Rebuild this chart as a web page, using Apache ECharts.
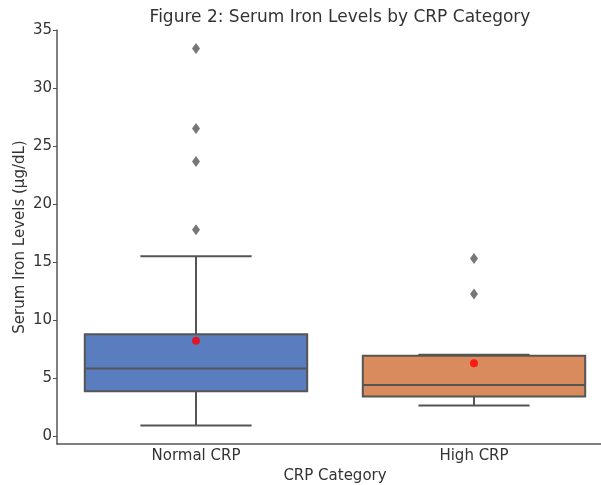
<!DOCTYPE html>
<html>
<head>
<meta charset="utf-8">
<script src="https://cdn.jsdelivr.net/npm/echarts@6/dist/echarts.min.js"></script>
<style>
html,body{margin:0;padding:0;background:#fff;}
#chart{width:601px;height:485px;}
</style>
</head>
<body>
<div id="chart"></div>
<script>
// categories and box stats
var categories = ['Normal CRP', 'High CRP'];
// [lower whisker, Q1, median, Q3, upper whisker]
var boxStats = [
  [0.89, 3.85, 5.8, 8.76, 15.5],
  [2.61, 3.39, 4.39, 6.92, 7.0]
];
var boxColors = ['#5a7dbf', '#d98b5e'];
var outliers = [
  [0, 33.4], [0, 26.5], [0, 23.66], [0, 17.77],
  [1, 15.3], [1, 12.23]
];
var means = [8.21, 6.26];
var yTicks = [0, 5, 10, 15, 20, 25, 30, 35];

var lineColor = '#555555';
var font = 'DejaVu Sans';

var myChart = echarts.init(document.getElementById('chart'));

var boxData = boxStats.map(function(s, i){ return [i].concat(s); });
var meanData = means.map(function(m, i){ return [i, m]; });

function renderBox(params, api){
  var idx = api.value(0);
  var band = api.size([1, 0])[0];
  var half = band * 0.4;
  var cap = band * 0.2;
  var low = api.coord([idx, api.value(1)]);
  var q1 = api.coord([idx, api.value(2)]);
  var med = api.coord([idx, api.value(3)]);
  var q3 = api.coord([idx, api.value(4)]);
  var high = api.coord([idx, api.value(5)]);
  var x = low[0];
  var ls = {stroke: lineColor, lineWidth: 2};
  return {
    type: 'group',
    children: [
      {type: 'line', shape: {x1: x, y1: q1[1], x2: x, y2: low[1]}, style: ls},
      {type: 'line', shape: {x1: x, y1: q3[1], x2: x, y2: high[1]}, style: ls},
      {type: 'line', shape: {x1: x - cap, y1: low[1], x2: x + cap, y2: low[1]}, style: ls},
      {type: 'line', shape: {x1: x - cap, y1: high[1], x2: x + cap, y2: high[1]}, style: ls},
      {type: 'rect', shape: {x: x - half, y: q3[1], width: half * 2, height: q1[1] - q3[1]},
        style: {fill: boxColors[idx], stroke: lineColor, lineWidth: 2}},
      {type: 'line', shape: {x1: x - half, y1: med[1], x2: x + half, y2: med[1]}, style: ls}
    ]
  };
}

var option = {
  animation: false,
  textStyle: {fontFamily: font},
  title: {
    text: 'Figure 2: Serum Iron Levels by CRP Category',
    left: 335, top: 4, textAlign: 'center',
    textStyle: {fontFamily: font, fontSize: 17, fontWeight: 'normal', color: '#333'}
  },
  grid: {left: 57, top: 30, width: 556, bottom: 41, containLabel: false, outerBoundsMode: 'none'},
  xAxis: {
    type: 'category',
    data: categories,
    name: 'CRP Category',
    nameLocation: 'middle',
    nameGap: 24,
    nameTextStyle: {fontFamily: font, fontSize: 15, color: '#333'},
    axisLine: {onZero: false, lineStyle: {color: lineColor, width: 1.5}},
    axisTick: {alignWithLabel: true, length: 4, lineStyle: {color: lineColor}},
    axisLabel: {fontFamily: font, fontSize: 15, color: '#333', margin: 5},
    splitLine: {show: false}
  },
  yAxis: {
    type: 'value',
    min: -0.7,
    max: 35,
    name: 'Serum Iron Levels (\u00b5g/dL)',
    nameLocation: 'middle',
    nameGap: 29,
    nameMoveOverlap: false,
    nameTextStyle: {fontFamily: font, fontSize: 15, color: '#333'},
    axisLine: {show: true, lineStyle: {color: lineColor, width: 1.5}},
    axisTick: {show: true, length: 4, customValues: yTicks, lineStyle: {color: lineColor}},
    axisLabel: {fontFamily: font, fontSize: 15, color: '#333', margin: 5, customValues: yTicks},
    splitLine: {show: false}
  },
  series: [
    {
      type: 'custom',
      renderItem: renderBox,
      encode: {x: 0, y: [1, 2, 3, 4, 5]},
      data: boxData,
      z: 2
    },
    {
      type: 'scatter',
      data: outliers,
      symbol: 'diamond',
      symbolSize: [8, 11],
      itemStyle: {color: lineColor},
      z: 3
    },
    {
      type: 'scatter',
      data: meanData,
      symbol: 'circle',
      symbolSize: 8,
      itemStyle: {color: '#ff0000'},
      z: 4
    }
  ]
};
myChart.setOption(option);
</script>
</body>
</html>
